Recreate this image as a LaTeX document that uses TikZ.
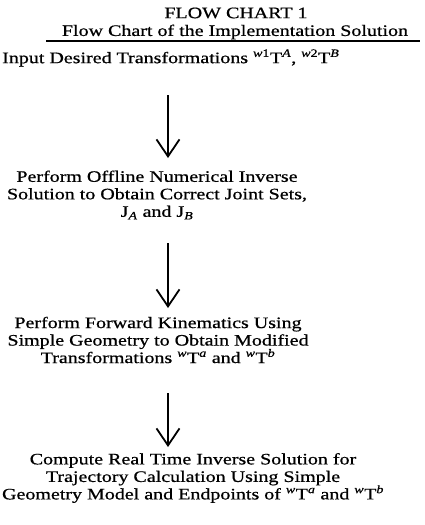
\documentclass[tikz,border=0pt]{standalone}
\usepackage{fontspec}
\setmainfont{Liberation Serif}[FakeStretch=1.25,FakeBold=0.7]
\usetikzlibrary{arrows.meta}
\tikzset{
  txt/.style={inner sep=0pt, align=center, font=\fontsize{16}{17.5}\selectfont},
  ttl/.style={inner sep=0pt, font=\fontsize{16}{17.5}\selectfont},
  arr/.style={line width=1.8pt, -{Straight Barb[length=17pt,width=23pt,line width=1.8pt]}}
}
\newcommand{\sps}[1]{\textsuperscript{#1}}
\begin{document}
\begin{tikzpicture}[x=1pt,y=-1pt]
\path[use as bounding box] (0,0) rectangle (425,525);
\node[ttl] (title) at (236,13) {FLOW CHART 1};
\node[ttl] (sub) at (235,32) {Flow Chart of the Implementation Solution};
\coordinate (ul1) at (46,41);
\coordinate (ul2) at (420,41);
\draw[line width=1.4pt] (ul1) -- (ul2);
\node[ttl, anchor=west] (in) at (2,58) {Input Desired Transformations \sps{\textit{w}1}T\sps{\textit{A}}, \sps{\textit{w}2}T\sps{\textit{B}}};
\node[txt] (s2) at (157,195) {Perform Offline Numerical Inverse\\Solution to Obtain Correct Joint Sets,\\J\textsubscript{\textit{A}} and J\textsubscript{\textit{B}}};
\node[txt] (s3) at (158,340) {Perform Forward Kinematics Using\\Simple Geometry to Obtain Modified\\Transformations \sps{\textit{w}}T\sps{\textit{a}} and \sps{\textit{w}}T\sps{\textit{b}}};
\node[txt] (s4) at (193,478) {Compute Real Time Inverse Solution for\\Trajectory Calculation Using Simple\\Geometry Model and Endpoints of \sps{\textit{w}}T\sps{\textit{a}} and \sps{\textit{w}}T\sps{\textit{b}}};
\coordinate (a1s) at (168,95);
\coordinate (a1e) at (168,158);
\coordinate (a2s) at (168,243);
\coordinate (a2e) at (168,308);
\coordinate (a3s) at (168,393);
\coordinate (a3e) at (168,447);
\draw[arr] (a1s) -- (a1e);
\draw[arr] (a2s) -- (a2e);
\draw[arr] (a3s) -- (a3e);
\end{tikzpicture}
\end{document}
